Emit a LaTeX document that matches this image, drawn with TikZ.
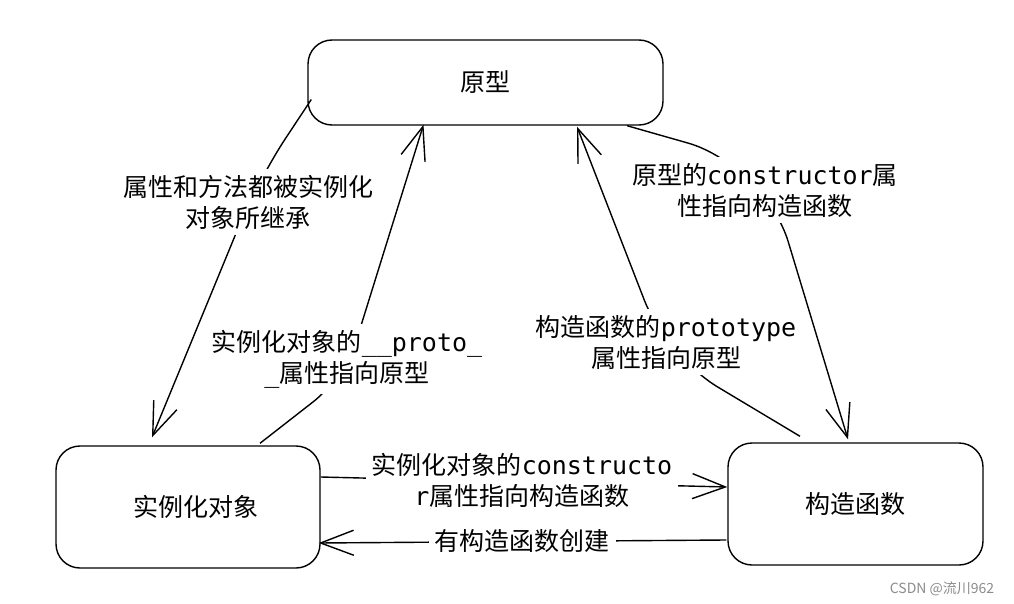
\documentclass[tikz,border=0pt]{standalone}
\usepackage{fontspec}
\setmainfont{Noto Sans CJK SC}
\newfontfamily\mono{DejaVu Sans Mono}
\usetikzlibrary{arrows.meta}
\begin{document}
\begin{tikzpicture}[x=1pt,y=-1pt,
  box/.style={draw, line width=1.4pt, rounded corners=24pt, inner sep=0pt, font=\fontsize{25}{30}\selectfont},
  lbl/.style={fill=white, align=center, inner sep=6pt, font=\fontsize{25}{31}\selectfont},
  conn/.style={line width=1.4pt, -{Straight Barb[length=33pt,width=25pt]}},
  wm/.style={font=\fontsize{14}{16}\selectfont, text=black!45}]
\fill[white] (0,0) rectangle (1014,604);
\useasboundingbox (0,0) rectangle (1014,604);

\node[box, minimum width=355pt, minimum height=85pt] (proto) at (485.5,82.5) {原型};
\node[box, minimum width=264pt, minimum height=122pt] (inst) at (188,507) {\hspace*{16pt}实例化对象};
\node[box, minimum width=255pt, minimum height=122pt] (ctor) at (855.5,504) {构造函数};

\draw[conn, rounded corners=50pt] ([shift={(4,17)}]proto.west) -- (258,180) -- ([shift={(-36,-8)}]inst.north);
\draw[conn, rounded corners=40pt] ([shift={(72,-2)}]inst.north) -- (345,377) -- ([shift={(-62,-1)}]proto.south);
\draw[conn, rounded corners=80pt] ([shift={(141.5,0)}]proto.south) -- (765,165) -- ([shift={(-7.5,-3)}]ctor.north);
\draw[conn, rounded corners=60pt] ([shift={(-55.5,-6)}]ctor.north) -- (666,356) -- ([shift={(91.5,1)}]proto.south);
\draw[conn] ([shift={(0,-30)}]inst.east) -- ([shift={(0,-17)}]ctor.west);
\draw[conn] ([shift={(-1,36)}]ctor.west) -- ([shift={(-2,36)}]inst.east);

\node[lbl] (l1) at (248,202) {属性和方法都被实例化\\对象所继承};
\node[lbl] (l2) at (347,359) {实例化对象的{\mono\_\_proto\_}\\{\mono\_}属性指向原型};
\node[lbl] (l3) at (765,190) {原型的{\mono constructor}属\\性指向构造函数};
\node[lbl] (l4) at (666,342) {构造函数的{\mono prototype}\\属性指向原型};
\node[lbl] (l5) at (522,480) {实例化对象的{\mono constructo}\\{\mono r}属性指向构造函数};
\node[lbl] (l6) at (522,541) {有构造函数创建};

\node[wm] (mark) at (942,589) {CSDN @流川962};
\end{tikzpicture}
\end{document}
